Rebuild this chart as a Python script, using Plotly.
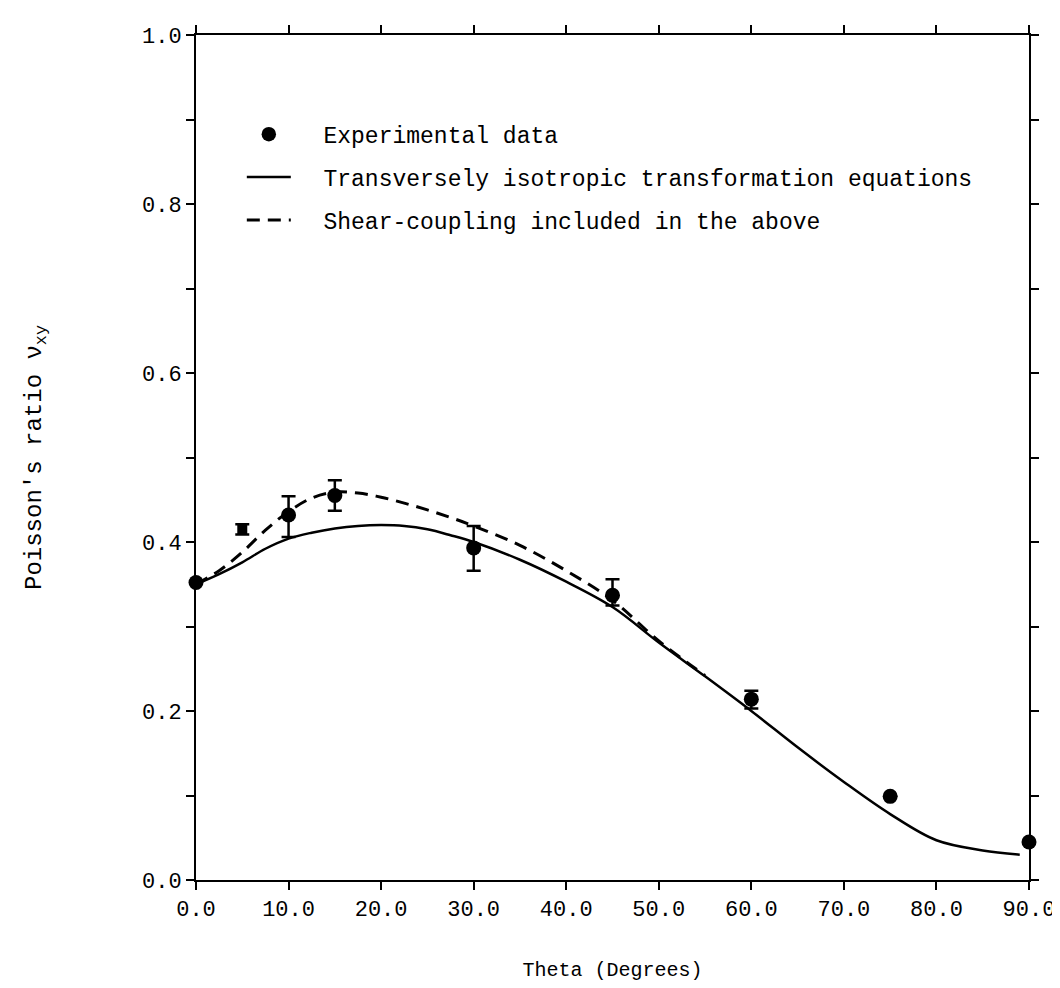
import plotly.graph_objects as go

# Experimental data (theta in degrees, Poisson's ratio)
theta_exp = [0, 5, 10, 15, 30, 45, 60, 75, 90]
nu_exp = [0.352, 0.415, 0.432, 0.455, 0.393, 0.337, 0.214, 0.099, 0.045]
err_plus = [0, 0.006, 0.022, 0.018, 0.026, 0.019, 0.010, 0, 0]
err_minus = [0, 0.006, 0.026, 0.018, 0.027, 0.012, 0.011, 0, 0]
exp_symbols = ["circle", "square", "circle", "circle", "circle", "circle", "circle", "circle", "circle"]
exp_sizes = [15, 10, 15, 15, 15, 15, 15, 15, 15]

# Transversely isotropic transformation equations (solid)
theta_ti = [0, 2.5, 5, 7.5, 10, 12.5, 15, 17.5, 20, 22.5, 25, 27.5, 30, 35, 40, 45,
            50, 55, 60, 65, 70, 75, 80, 85, 89]
nu_ti = [0.350, 0.362, 0.376, 0.392, 0.404, 0.411, 0.416, 0.419, 0.420, 0.419, 0.415,
         0.408, 0.400, 0.379, 0.353, 0.323, 0.281, 0.241, 0.200, 0.157, 0.116, 0.078,
         0.047, 0.035, 0.030]

# Shear-coupling included (dashed)
theta_sc = [0, 2.5, 5, 7.5, 10, 12.5, 15, 17.5, 20, 22.5, 25, 27.5, 30, 35, 40, 45, 50, 55]
nu_sc = [0.350, 0.366, 0.388, 0.414, 0.436, 0.452, 0.459, 0.458, 0.453, 0.446, 0.438,
         0.429, 0.419, 0.396, 0.366, 0.331, 0.283, 0.242]

x_ticks = [0, 10, 20, 30, 40, 50, 60, 70, 80, 90]
x_ticktext = ["0.0", "10.0", "20.0", "30.0", "40.0", "50.0", "60.0", "70.0", "80.0", "90.0"]
y_ticks = [0.0, 0.2, 0.4, 0.6, 0.8, 1.0]
y_ticktext = ["0.0", "0.2", "0.4", "0.6", "0.8", "1.0"]

FONT = "Liberation Mono, Courier New, monospace"
PAD = "\u00a0\u00a0"

fig = go.Figure()

fig.add_trace(go.Scatter(
    x=theta_exp, y=nu_exp, mode="markers", name=PAD + "Experimental data",
    legendgroup="a",
    marker=dict(color="black", size=exp_sizes, symbol=exp_symbols, opacity=1,
                line=dict(width=0)),
    error_y=dict(type="data", array=err_plus, arrayminus=err_minus, symmetric=False,
                 color="black", thickness=2.5, width=7),
    cliponaxis=False,
))
fig.add_trace(go.Scatter(
    x=theta_ti, y=nu_ti, mode="lines",
    name=PAD + "Transversely isotropic transformation equations",
    legendgroup="b",
    line=dict(color="black", width=2.5, shape="spline"),
))
fig.add_trace(go.Scatter(
    x=theta_sc, y=nu_sc, mode="lines",
    name=PAD + "Shear-coupling included in the above",
    legendgroup="c",
    line=dict(color="black", width=3, dash="13px,8px", shape="spline"),
))

axis_common = dict(
    showline=True, linecolor="black", linewidth=2, mirror="ticks",
    ticks="outside", ticklen=8, tickwidth=2, tickcolor="black",
    showgrid=False, zeroline=False,
    tickfont=dict(family=FONT, size=22, color="black"),
)

fig.update_xaxes(
    range=[0, 90], tickmode="array", tickvals=x_ticks, ticktext=x_ticktext,
    title=dict(text="Theta (Degrees)", font=dict(family=FONT, size=20, color="black"),
               standoff=40),
    **axis_common,
)
fig.update_yaxes(
    range=[0, 1.0], tickmode="array", tickvals=y_ticks, ticktext=y_ticktext,
    minor=dict(dtick=0.1, tick0=0, ticks="outside", ticklen=8, tickwidth=2,
               tickcolor="black", showgrid=False),
    title=dict(text="Poisson's ratio ν<sub>xy</sub>",
               font=dict(family=FONT, size=24, color="black"), standoff=94),
    **axis_common,
)

fig.update_layout(
    width=1060, height=988,
    margin=dict(l=188, r=39, t=27, b=116),
    paper_bgcolor="white", plot_bgcolor="white",
    font=dict(family=FONT, size=22, color="black"),
    showlegend=True,
    legend=dict(
        x=0.055, y=0.908, xanchor="left", yanchor="top",
        bgcolor="rgba(0,0,0,0)", borderwidth=0,
        tracegroupgap=10, itemwidth=44,
        font=dict(family=FONT, size=23, color="black"),
    ),
)

fig.write_html("out.html")
